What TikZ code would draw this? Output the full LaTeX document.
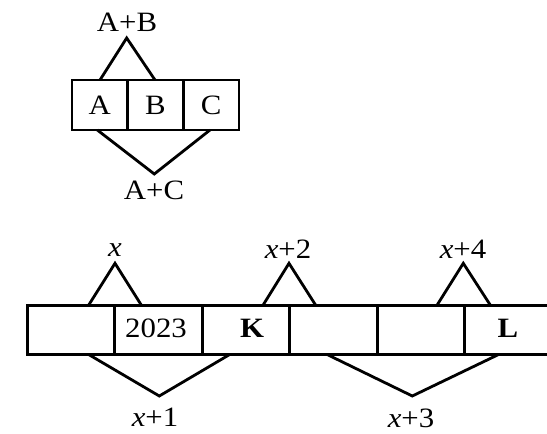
\documentclass[tikz,border=0pt]{standalone}
\usepackage{fontspec}
\setmainfont[FakeStretch=1.1]{Liberation Serif}
\begin{document}
\begin{tikzpicture}[x=1pt,y=-1pt,
  every node/.style={font=\fontsize{28}{32}\selectfont, inner sep=0pt},
  cellA/.style={draw, line width=2.8pt, minimum width=55.6pt, minimum height=50pt},
  cellB/.style={draw, line width=2.8pt, minimum width=87.5pt, minimum height=48.6pt},
  tri/.style={draw, line width=2.8pt, line join=miter}]
\useasboundingbox (0,0) rectangle (547,434);
% top group
\node[cellA] (a) at (99.8,105) {A};
\node[cellA] (b) at (155.5,105) {B};
\node[cellA] (c) at (211.1,105) {C};
\coordinate (apAB) at (126.7,38);
\coordinate (apAC) at (154.3,174);
\path[tri] (100,80) -- (apAB) -- (155,80);
\path[tri] (97.3,130) -- (apAC) -- (210,130);
\node (lAB) at (127,22) {A+B};
\node (lAC) at (154,190) {A+C};
% bottom row
\node[cellB] (c1) at (71.1,330) {};
\node[cellB] (c2) at (158.6,330) {};
\node[cellB] (c3) at (246.1,330) {};
\node[cellB] (c4) at (333.6,330) {};
\node[cellB] (c5) at (421.1,330) {};
\node[cellB] (c6) at (508.6,330) {};
\node (t2023) at (156,328) {2023};
\node (tK) at (252,328) {\textbf{K}};
\node (tL) at (508,328) {\textbf{L}};
\coordinate (apx) at (115,263.3);
\coordinate (apx2) at (289,263.3);
\coordinate (apx4) at (463.3,263.3);
\coordinate (apx1) at (159.3,396);
\coordinate (apx3) at (412.3,396);
\path[tri] (88.3,305.7) -- (apx) -- (141.7,305.7);
\path[tri] (262.7,305.7) -- (apx2) -- (316,305.7);
\path[tri] (436.7,305.7) -- (apx4) -- (490.7,305.7);
\path[tri] (88.3,354.3) -- (apx1) -- (230,354.3);
\path[tri] (326.7,354.3) -- (apx3) -- (499,354.3);
\node (lx) at (115,250) {\textit{x}};
\node (lx2) at (288,249) {\textit{x}+2};
\node (lx4) at (463,249) {\textit{x}+4};
\node (lx1) at (155,417) {\textit{x}+1};
\node (lx3) at (411,418) {\textit{x}+3};
\end{tikzpicture}
\end{document}
